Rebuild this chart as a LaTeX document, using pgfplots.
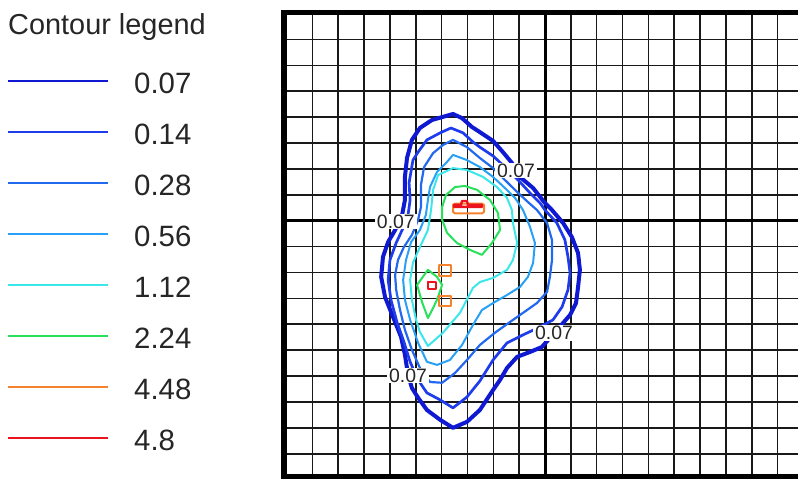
\documentclass[border=0pt]{standalone}
\usepackage{pgfplots}
\pgfplotsset{compat=1.18}
\usepackage{fontspec}
\setmainfont{Liberation Sans}

% contour level colours
\definecolor{lvA}{RGB}{15,25,210}   % 0.07
\definecolor{lvB}{RGB}{30,60,235}   % 0.14
\definecolor{lvC}{RGB}{35,105,240}  % 0.28
\definecolor{lvD}{RGB}{40,160,245}  % 0.56
\definecolor{lvE}{RGB}{60,230,235}  % 1.12
\definecolor{lvF}{RGB}{40,225,90}   % 2.24
\definecolor{lvG}{RGB}{245,130,45}  % 4.48
\definecolor{lvH}{RGB}{235,20,30}   % 4.8

\begin{document}
\begin{tikzpicture}
\begin{axis}[
  at={(284bp,2.5bp)}, anchor=south west,
  scale only axis, width=520.7bp, height=464bp,
  xmin=-10.1, xmax=10.05, ymin=-9.88, ymax=8.04,
  xtick={-10,...,10}, ytick={-9,...,8},
  xticklabels={}, yticklabels={},
  major tick length=0pt,
  grid=major,
  grid style={black!90, line width=1.6bp},
  extra x ticks={0}, extra y ticks={0},
  extra x tick labels={}, extra y tick labels={},
  extra tick style={grid style={black, line width=3bp}},
  axis line style={black, line width=5.5bp},
  no markers,
  every axis plot/.append style={line join=round, line cap=round},
]
% level 0.07
\addplot[lvA, line width=4bp] coordinates {
(-3.56,4.12) (-3.21,3.96) (-2.83,3.62) (-2.52,3.42) (-2.01,3.08) (-1.63,2.65)
(-1.28,2.23) (-0.97,1.69) (-0.46,1.26) (0,0.68) (0.27,0.41) (0.70,-0.09)
(1.04,-0.63) (1.28,-1.25) (1.35,-1.90) (1.28,-2.56) (1.20,-3.18) (0.97,-3.64)
(0.43,-4.26) (-0.12,-4.88) (-0.58,-5.07) (-1.08,-5.26) (-1.47,-5.69) (-1.74,-6.15)
(-2.01,-6.54) (-2.52,-7.31) (-3.02,-7.77) (-3.56,-8.00) (-4.06,-7.69) (-4.57,-7.31)
(-4.91,-6.84) (-5.15,-6.46) (-5.30,-5.96) (-5.42,-5.18) (-5.57,-4.49) (-5.88,-3.72)
(-6.19,-2.95) (-6.34,-2.17) (-6.27,-1.40) (-6.07,-0.82) (-5.80,-0.36) (-5.53,0.22)
(-5.42,0.80) (-5.42,1.69) (-5.34,2.42) (-5.15,3.12) (-4.84,3.58) (-4.37,3.89)
(-3.98,4.00) (-3.56,4.12)};
% level 0.14
\addplot[lvB, line width=2.7bp] coordinates {
(-3.64,3.58) (-3.17,3.39) (-2.79,3.04) (-2.52,2.84) (-2.01,2.50) (-1.55,2.07)
(-1.04,1.57) (-0.58,1.07) (-0.19,0.68) (0,0.41) (0.46,-0.09) (0.77,-0.74)
(0.89,-1.40) (0.97,-2.02) (0.89,-2.67) (0.66,-3.33) (0.31,-3.83) (-0.27,-4.14)
(-0.85,-4.41) (-1.47,-4.72) (-2.01,-5.38) (-2.52,-6.19) (-3.02,-6.81) (-3.56,-7.23)
(-4.06,-6.92) (-4.57,-6.65) (-4.91,-6.15) (-5.22,-5.45) (-5.46,-4.68) (-5.73,-3.91)
(-5.96,-3.06) (-6.07,-2.29) (-6.00,-1.52) (-5.76,-0.86) (-5.49,-0.28) (-5.30,0.22)
(-5.22,0.80) (-5.26,1.46) (-5.11,2.34) (-4.91,2.65) (-4.57,3.12) (-4.06,3.39)
(-3.64,3.58)};
% level 0.28
\addplot[lvC, line width=2.2bp] coordinates {
(-3.56,3.12) (-3.02,2.84) (-2.52,2.42) (-2.01,2.03) (-1.55,1.57) (-1.08,1.11)
(-0.66,0.72) (-0.31,0.41) (0.08,-0.09) (0.27,-0.74) (0.27,-1.52) (0.19,-2.17)
(0.08,-2.75) (-0.31,-3.18) (-0.85,-3.56) (-1.35,-3.91) (-1.94,-4.33) (-2.52,-4.80)
(-3.02,-5.38) (-3.48,-5.88) (-3.98,-6.26) (-4.45,-6.23) (-4.84,-5.69) (-5.15,-4.99)
(-5.42,-4.22) (-5.61,-3.45) (-5.76,-2.67) (-5.80,-2.10) (-5.69,-1.52) (-5.46,-1.02)
(-5.15,-0.55) (-4.91,0.03) (-4.80,0.53) (-4.80,1.38) (-4.68,2.07) (-4.33,2.61)
(-3.95,2.92) (-3.56,3.12)};
% level 0.56
\addplot[lvD, line width=2bp] coordinates {
(-3.56,2.54) (-3.02,2.34) (-2.52,2.07) (-2.01,1.69) (-1.55,1.26) (-1.16,0.88)
(-0.85,0.41) (-0.58,-0.24) (-0.39,-0.86) (-0.46,-1.63) (-0.66,-2.17) (-0.97,-2.56)
(-1.47,-2.87) (-1.94,-3.14) (-2.44,-3.45) (-2.79,-4.03) (-3.21,-4.80) (-3.68,-5.38)
(-4.18,-5.57) (-4.57,-5.45) (-4.91,-4.72) (-5.22,-3.83) (-5.42,-3.06) (-5.49,-2.29)
(-5.38,-1.52) (-5.18,-0.82) (-4.84,-0.36) (-4.61,0.22) (-4.53,0.80) (-4.45,1.30)
(-4.18,1.88) (-3.79,2.27) (-3.56,2.54)};
% level 1.12
\addplot[lvE, line width=2bp] coordinates {
(-3.56,2.03) (-3.02,1.96) (-2.40,1.69) (-1.86,1.30) (-1.47,0.88) (-1.28,0.41)
(-1.24,-0.09) (-1.08,-0.86) (-1.24,-1.52) (-1.47,-1.90) (-2.01,-2.21) (-2.52,-2.37)
(-2.79,-2.60) (-3.29,-3.56) (-3.95,-4.33) (-4.53,-4.84) (-4.84,-4.30) (-4.99,-3.83)
(-5.15,-3.06) (-5.22,-2.29) (-5.11,-1.63) (-4.84,-1.02) (-4.53,-0.36) (-4.41,0.41)
(-4.33,1.19) (-4.14,1.76) (-3.56,2.03)};
% level 2.24 (two lobes)
\addplot[lvF, line width=2bp] coordinates {
(-3.98,0.53) (-3.83,0.99) (-3.48,1.30) (-3.10,1.34) (-2.63,1.19) (-2.13,0.80)
(-1.82,0.30) (-1.74,-0.36) (-2.05,-0.86) (-2.44,-1.32) (-2.90,-1.13) (-3.41,-0.86)
(-3.79,-0.47) (-3.98,0.03) (-3.98,0.53)};
\addplot[lvF, line width=2bp] coordinates {
(-4.95,-2.48) (-4.53,-1.90) (-4.18,-2.17) (-3.98,-2.48) (-4.18,-3.06) (-4.37,-3.45)
(-4.53,-3.76) (-4.76,-3.14) (-4.95,-2.48)};
% level 4.48
\addplot[lvG, line width=2bp] coordinates {
(-3.56,0.61) (-3.48,0.66) (-2.44,0.66) (-2.36,0.61) (-2.36,0.34) (-2.44,0.28)
(-3.48,0.28) (-3.56,0.34) (-3.56,0.61)};
\addplot[lvG, line width=2bp] coordinates {
(-4.10,-1.73) (-3.64,-1.73) (-3.64,-2.13) (-4.10,-2.13) (-4.10,-1.73)};
\addplot[lvG, line width=2bp] coordinates {
(-4.10,-2.89) (-3.64,-2.89) (-3.64,-3.31) (-4.10,-3.31) (-4.10,-2.89)};
% level 4.8
\addplot[lvH, line width=2.4bp] coordinates {
(-3.52,0.61) (-3.25,0.61) (-3.21,0.76) (-3.02,0.76) (-2.98,0.61) (-2.44,0.61)
(-2.44,0.53) (-3.52,0.53) (-3.52,0.61)};
\addplot[lvH, line width=2bp] coordinates {
(-4.51,-2.35) (-4.20,-2.35) (-4.20,-2.62) (-4.51,-2.62) (-4.51,-2.35)};
% level labels
\tikzset{lvlabel/.style={fill=white, inner xsep=2bp, inner ysep=1bp,
  text=black!85, font=\fontsize{19.5}{20}\selectfont}}
\node[lvlabel] at (axis cs:-1.12,1.94) {0.07};
\node[lvlabel] at (axis cs:-5.77,-0.03) {0.07};
\node[lvlabel] at (axis cs:0.35,-4.34) {0.07};
\node[lvlabel] at (axis cs:-5.30,-5.98) {0.07};
\end{axis}

% legend
\node[anchor=base west, inner sep=0, font=\fontsize{29}{30}\selectfont, text=black!85]
  at (8bp,444.5bp) {Contour legend};
\foreach \c/\v [count=\i from 0] in {lvA/0.07,lvB/0.14,lvC/0.28,lvD/0.56,lvE/1.12,lvF/2.24,lvG/4.48,lvH/4.8}{
  \pgfmathsetmacro{\yy}{398-51*\i}
  \draw[\c, line width=2.4bp] (8bp,\yy bp) -- (108bp,\yy bp);
  \node[anchor=base west, inner sep=0, font=\fontsize{29.5}{30}\selectfont, text=black!85]
    at (134bp,\yy bp-12.3bp) {\v};
}
\pgfresetboundingbox
\useasboundingbox (0,0) rectangle (798bp,479bp);
\end{tikzpicture}
\end{document}
